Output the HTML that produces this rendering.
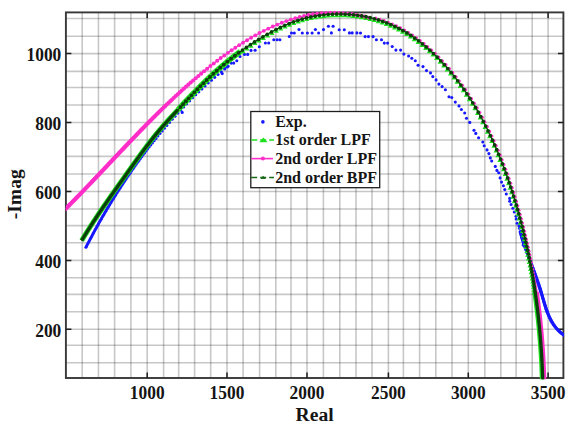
<!DOCTYPE html><html><head><meta charset="utf-8"><style>
html,body{margin:0;padding:0;background:#fff;width:572px;height:428px;overflow:hidden}
svg{display:block}
text{font-family:"Liberation Serif",serif;font-weight:bold;fill:#151515}
</style></head><body>
<svg width="572" height="428" viewBox="0 0 572 428">
<defs><clipPath id="c"><rect x="65.9" y="9" width="498.1" height="370.2"/></clipPath></defs>
<path d="M82.20,12.40V378.00M98.45,12.40V378.00M114.60,12.40V378.00M130.90,12.40V378.00M147.20,12.40V378.00M163.60,12.40V378.00M178.70,12.40V378.00M194.60,12.40V378.00M210.70,12.40V378.00M227.00,12.40V378.00M243.10,12.40V378.00M259.60,12.40V378.00M275.80,12.40V378.00M291.00,12.40V378.00M307.00,12.40V378.00M323.40,12.40V378.00M339.80,12.40V378.00M356.00,12.40V378.00M372.00,12.40V378.00M388.40,12.40V378.00M403.40,12.40V378.00M419.60,12.40V378.00M435.80,12.40V378.00M452.00,12.40V378.00M468.30,12.40V378.00M484.80,12.40V378.00M500.80,12.40V378.00M516.10,12.40V378.00M532.20,12.40V378.00M548.10,12.40V378.00" stroke="#000" stroke-opacity="0.22" stroke-width="1.6" fill="none"/>
<path d="M65.90,362.70H563.40M65.90,345.30H563.40M65.90,329.20H563.40M65.90,311.70H563.40M65.90,294.40H563.40M65.90,277.80H563.40M65.90,260.40H563.40M65.90,242.80H563.40M65.90,225.60H563.40M65.90,209.00H563.40M65.90,191.50H563.40M65.90,174.00H563.40M65.90,156.40H563.40M65.90,140.00H563.40M65.90,122.50H563.40M65.90,105.00H563.40M65.90,87.50H563.40M65.90,71.40H563.40M65.90,53.60H563.40M65.90,36.20H563.40M65.90,18.50H563.40" stroke="#000" stroke-opacity="0.22" stroke-width="1.6" fill="none"/>
<rect x="65.90" y="12.40" width="497.50" height="365.60" fill="none" stroke="#383838" stroke-width="1.9"/>
<path d="M147.20,378.00V372.50M147.20,12.40V17.90M227.00,378.00V372.50M227.00,12.40V17.90M307.00,378.00V372.50M307.00,12.40V17.90M388.40,378.00V372.50M388.40,12.40V17.90M468.30,378.00V372.50M468.30,12.40V17.90M548.10,378.00V372.50M548.10,12.40V17.90M65.90,329.20H71.40M563.40,329.20H557.90M65.90,260.40H71.40M563.40,260.40H557.90M65.90,191.50H71.40M563.40,191.50H557.90M65.90,122.50H71.40M563.40,122.50H557.90M65.90,53.60H71.40M563.40,53.60H557.90" stroke="#1e1e1e" stroke-width="1.5" fill="none"/>
<g clip-path="url(#c)">
<g fill="#1818ff"><circle cx="85.93" cy="247.32" r="1.55"/><circle cx="86.57" cy="246.07" r="1.55"/><circle cx="87.22" cy="244.81" r="1.55"/><circle cx="87.87" cy="243.55" r="1.55"/><circle cx="88.52" cy="242.29" r="1.55"/><circle cx="89.18" cy="241.03" r="1.55"/><circle cx="89.84" cy="239.77" r="1.55"/><circle cx="90.51" cy="238.50" r="1.55"/><circle cx="91.18" cy="237.23" r="1.55"/><circle cx="91.86" cy="235.96" r="1.55"/><circle cx="92.54" cy="234.68" r="1.55"/><circle cx="93.22" cy="233.40" r="1.55"/><circle cx="93.91" cy="232.12" r="1.55"/><circle cx="94.61" cy="230.84" r="1.55"/><circle cx="95.31" cy="229.56" r="1.55"/><circle cx="96.02" cy="228.27" r="1.55"/><circle cx="96.73" cy="226.98" r="1.55"/><circle cx="97.44" cy="225.68" r="1.55"/><circle cx="98.17" cy="224.39" r="1.55"/><circle cx="98.89" cy="223.09" r="1.55"/><circle cx="99.62" cy="221.79" r="1.55"/><circle cx="100.36" cy="220.49" r="1.55"/><circle cx="101.10" cy="219.18" r="1.55"/><circle cx="101.85" cy="217.87" r="1.55"/><circle cx="102.60" cy="216.56" r="1.55"/><circle cx="103.36" cy="215.25" r="1.55"/><circle cx="104.13" cy="213.93" r="1.55"/><circle cx="104.90" cy="212.61" r="1.55"/><circle cx="105.67" cy="211.29" r="1.55"/><circle cx="106.45" cy="209.96" r="1.55"/><circle cx="107.24" cy="208.64" r="1.55"/><circle cx="108.03" cy="207.31" r="1.55"/><circle cx="108.83" cy="205.97" r="1.55"/><circle cx="109.64" cy="204.64" r="1.55"/><circle cx="110.45" cy="203.30" r="1.55"/><circle cx="111.26" cy="201.96" r="1.55"/><circle cx="112.09" cy="200.62" r="1.55"/><circle cx="112.92" cy="199.27" r="1.55"/><circle cx="113.75" cy="197.92" r="1.55"/><circle cx="114.59" cy="196.57" r="1.55"/><circle cx="115.44" cy="195.22" r="1.55"/><circle cx="116.30" cy="193.86" r="1.55"/><circle cx="117.18" cy="192.47" r="1.55"/><circle cx="118.07" cy="191.07" r="1.55"/><circle cx="118.98" cy="189.65" r="1.55"/><circle cx="119.91" cy="188.21" r="1.55"/><circle cx="120.86" cy="186.75" r="1.55"/><circle cx="121.83" cy="185.27" r="1.55"/><circle cx="122.81" cy="183.77" r="1.55"/><circle cx="123.82" cy="182.25" r="1.55"/><circle cx="124.85" cy="180.71" r="1.55"/><circle cx="125.89" cy="179.15" r="1.55"/><circle cx="126.96" cy="177.56" r="1.55"/><circle cx="128.06" cy="175.96" r="1.55"/><circle cx="129.17" cy="174.33" r="1.55"/><circle cx="130.31" cy="172.68" r="1.55"/><circle cx="131.47" cy="171.00" r="1.55"/><circle cx="132.66" cy="169.31" r="1.55"/><circle cx="133.87" cy="167.59" r="1.55"/><circle cx="135.11" cy="165.84" r="1.55"/><circle cx="136.38" cy="164.08" r="1.55"/><circle cx="137.67" cy="162.28" r="1.55"/><circle cx="138.99" cy="160.47" r="1.55"/><circle cx="140.34" cy="158.62" r="1.55"/><circle cx="141.73" cy="156.76" r="1.55"/><circle cx="143.14" cy="154.86" r="1.55"/><circle cx="144.59" cy="152.94" r="1.55"/><circle cx="146.07" cy="151.00" r="1.55"/><circle cx="147.58" cy="149.02" r="1.55"/><circle cx="149.13" cy="147.02" r="1.55"/><circle cx="150.72" cy="144.99" r="1.55"/><circle cx="152.36" cy="142.91" r="1.55"/><circle cx="154.10" cy="140.73" r="1.55"/><circle cx="155.94" cy="138.45" r="1.55"/><circle cx="157.89" cy="136.06" r="1.55"/><circle cx="159.94" cy="133.57" r="1.55"/><circle cx="162.12" cy="130.97" r="1.55"/><circle cx="164.43" cy="128.24" r="1.55"/><circle cx="166.88" cy="125.40" r="1.55"/><circle cx="169.47" cy="122.42" r="1.55"/><circle cx="172.23" cy="119.31" r="1.55"/><circle cx="175.05" cy="116.19" r="1.55"/><circle cx="177.90" cy="113.08" r="1.55"/><circle cx="180.78" cy="109.99" r="1.55"/><circle cx="183.70" cy="106.92" r="1.55"/><circle cx="186.64" cy="103.86" r="1.55"/><circle cx="189.63" cy="100.83" r="1.55"/><circle cx="192.64" cy="97.82" r="1.55"/><circle cx="195.69" cy="94.82" r="1.55"/><circle cx="198.77" cy="91.85" r="1.55"/><circle cx="201.89" cy="88.90" r="1.55"/><circle cx="205.05" cy="85.97" r="1.55"/><circle cx="208.23" cy="83.07" r="1.55"/><circle cx="211.46" cy="80.19" r="1.55"/><circle cx="214.71" cy="77.33" r="1.55"/><circle cx="218.01" cy="74.50" r="1.55"/><circle cx="221.34" cy="71.69" r="1.55"/><circle cx="224.71" cy="68.91" r="1.55"/><circle cx="228.11" cy="66.16" r="1.55"/><circle cx="182.20" cy="112.40" r="1.55"/><circle cx="222.20" cy="73.60" r="1.55"/><circle cx="224.60" cy="68.40" r="1.55"/><circle cx="227.40" cy="67.00" r="1.55"/><circle cx="231.20" cy="63.10" r="1.55"/><circle cx="233.70" cy="63.10" r="1.55"/><circle cx="236.80" cy="60.70" r="1.55"/><circle cx="240.00" cy="56.50" r="1.55"/><circle cx="244.50" cy="54.40" r="1.55"/><circle cx="247.70" cy="54.40" r="1.55"/><circle cx="251.00" cy="50.40" r="1.55"/><circle cx="255.10" cy="50.30" r="1.55"/><circle cx="259.30" cy="46.80" r="1.55"/><circle cx="265.40" cy="43.00" r="1.55"/><circle cx="268.70" cy="43.00" r="1.55"/><circle cx="273.80" cy="39.80" r="1.55"/><circle cx="277.10" cy="39.80" r="1.55"/><circle cx="279.90" cy="39.80" r="1.55"/><circle cx="289.30" cy="36.50" r="1.55"/><circle cx="291.50" cy="33.00" r="1.55"/><circle cx="294.30" cy="33.00" r="1.55"/><circle cx="299.00" cy="29.50" r="1.55"/><circle cx="302.30" cy="33.00" r="1.55"/><circle cx="307.40" cy="33.00" r="1.55"/><circle cx="312.10" cy="33.00" r="1.55"/><circle cx="315.40" cy="29.50" r="1.55"/><circle cx="318.60" cy="33.00" r="1.55"/><circle cx="323.50" cy="29.60" r="1.55"/><circle cx="328.40" cy="26.20" r="1.55"/><circle cx="333.10" cy="26.20" r="1.55"/><circle cx="331.40" cy="32.90" r="1.55"/><circle cx="339.20" cy="29.70" r="1.55"/><circle cx="344.30" cy="29.70" r="1.55"/><circle cx="349.40" cy="32.90" r="1.55"/><circle cx="352.20" cy="32.90" r="1.55"/><circle cx="356.90" cy="32.90" r="1.55"/><circle cx="360.50" cy="33.00" r="1.55"/><circle cx="365.10" cy="36.60" r="1.55"/><circle cx="368.40" cy="36.60" r="1.55"/><circle cx="373.10" cy="36.60" r="1.55"/><circle cx="376.40" cy="39.80" r="1.55"/><circle cx="381.50" cy="39.80" r="1.55"/><circle cx="384.30" cy="43.10" r="1.55"/><circle cx="387.60" cy="43.10" r="1.55"/><circle cx="392.20" cy="46.50" r="1.55"/><circle cx="395.90" cy="50.10" r="1.55"/><circle cx="400.60" cy="50.10" r="1.55"/><circle cx="403.90" cy="54.10" r="1.55"/><circle cx="408.60" cy="56.00" r="1.55"/><circle cx="411.80" cy="58.30" r="1.55"/><circle cx="415.30" cy="60.70" r="1.55"/><circle cx="418.10" cy="65.20" r="1.55"/><circle cx="423.00" cy="66.60" r="1.55"/><circle cx="426.50" cy="70.60" r="1.55"/><circle cx="430.50" cy="72.90" r="1.55"/><circle cx="432.80" cy="76.60" r="1.55"/><circle cx="436.10" cy="79.90" r="1.55"/><circle cx="438.90" cy="84.10" r="1.55"/><circle cx="442.10" cy="86.60" r="1.55"/><circle cx="445.40" cy="89.70" r="1.55"/><circle cx="449.00" cy="96.80" r="1.55"/><circle cx="451.80" cy="97.50" r="1.55"/><circle cx="455.30" cy="102.10" r="1.55"/><circle cx="459.00" cy="105.90" r="1.55"/><circle cx="461.40" cy="109.50" r="1.55"/><circle cx="464.70" cy="113.00" r="1.55"/><circle cx="466.50" cy="118.20" r="1.55"/><circle cx="469.80" cy="122.40" r="1.55"/><circle cx="474.00" cy="130.20" r="1.55"/><circle cx="475.80" cy="133.40" r="1.55"/><circle cx="478.60" cy="137.70" r="1.55"/><circle cx="482.80" cy="142.00" r="1.55"/><circle cx="484.20" cy="145.70" r="1.55"/><circle cx="487.00" cy="149.90" r="1.55"/><circle cx="488.90" cy="153.60" r="1.55"/><circle cx="490.30" cy="157.90" r="1.55"/><circle cx="491.70" cy="161.00" r="1.55"/><circle cx="495.30" cy="166.40" r="1.55"/><circle cx="496.90" cy="170.40" r="1.55"/><circle cx="498.70" cy="172.80" r="1.55"/><circle cx="500.10" cy="177.90" r="1.55"/><circle cx="501.50" cy="182.10" r="1.55"/><circle cx="503.40" cy="185.80" r="1.55"/><circle cx="504.80" cy="189.60" r="1.55"/><circle cx="506.30" cy="194.00" r="1.55"/><circle cx="509.70" cy="198.40" r="1.55"/><circle cx="509.70" cy="201.20" r="1.55"/><circle cx="511.10" cy="204.50" r="1.55"/><circle cx="512.90" cy="208.20" r="1.55"/><circle cx="514.30" cy="212.00" r="1.55"/><circle cx="516.00" cy="216.20" r="1.55"/><circle cx="516.20" cy="219.00" r="1.55"/><circle cx="517.10" cy="223.20" r="1.55"/><circle cx="519.00" cy="225.90" r="1.55"/><circle cx="519.50" cy="228.30" r="1.55"/><circle cx="520.90" cy="231.50" r="1.55"/><circle cx="521.80" cy="237.10" r="1.55"/><circle cx="523.20" cy="245.10" r="1.55"/><circle cx="520.25" cy="231.66" r="1.65"/><circle cx="520.52" cy="232.62" r="1.65"/><circle cx="520.79" cy="233.58" r="1.65"/><circle cx="521.07" cy="234.54" r="1.65"/><circle cx="521.35" cy="235.50" r="1.65"/><circle cx="521.64" cy="236.46" r="1.65"/><circle cx="521.93" cy="237.42" r="1.65"/><circle cx="522.22" cy="238.37" r="1.65"/><circle cx="522.52" cy="239.33" r="1.65"/><circle cx="522.83" cy="240.28" r="1.65"/><circle cx="523.13" cy="241.23" r="1.65"/><circle cx="523.44" cy="242.18" r="1.65"/><circle cx="523.76" cy="243.13" r="1.65"/><circle cx="524.08" cy="244.08" r="1.65"/><circle cx="524.40" cy="245.03" r="1.65"/><circle cx="524.72" cy="245.97" r="1.65"/><circle cx="525.04" cy="246.92" r="1.65"/><circle cx="525.37" cy="247.86" r="1.65"/><circle cx="525.70" cy="248.81" r="1.65"/><circle cx="526.04" cy="249.75" r="1.65"/><circle cx="526.37" cy="250.69" r="1.65"/><circle cx="526.71" cy="251.63" r="1.65"/><circle cx="527.05" cy="252.57" r="1.65"/><circle cx="527.39" cy="253.51" r="1.65"/><circle cx="527.74" cy="254.45" r="1.65"/><circle cx="528.08" cy="255.39" r="1.65"/><circle cx="528.43" cy="256.33" r="1.65"/><circle cx="528.77" cy="257.27" r="1.65"/><circle cx="529.12" cy="258.21" r="1.65"/><circle cx="529.47" cy="259.14" r="1.65"/><circle cx="529.82" cy="260.08" r="1.65"/><circle cx="530.17" cy="261.02" r="1.65"/><circle cx="530.52" cy="261.95" r="1.65"/><circle cx="530.87" cy="262.89" r="1.65"/><circle cx="531.22" cy="263.83" r="1.65"/><circle cx="531.58" cy="264.76" r="1.65"/><circle cx="531.93" cy="265.70" r="1.65"/><circle cx="532.28" cy="266.63" r="1.65"/><circle cx="532.63" cy="267.57" r="1.65"/><circle cx="532.98" cy="268.51" r="1.65"/><circle cx="533.33" cy="269.44" r="1.65"/><circle cx="533.68" cy="270.38" r="1.65"/><circle cx="534.02" cy="271.32" r="1.65"/><circle cx="534.37" cy="272.26" r="1.65"/><circle cx="534.71" cy="273.20" r="1.65"/><circle cx="535.06" cy="274.14" r="1.65"/><circle cx="535.40" cy="275.08" r="1.65"/><circle cx="535.74" cy="276.02" r="1.65"/><circle cx="536.08" cy="276.96" r="1.65"/><circle cx="536.41" cy="277.90" r="1.65"/><circle cx="536.75" cy="278.84" r="1.65"/><circle cx="537.08" cy="279.78" r="1.65"/><circle cx="537.41" cy="280.73" r="1.65"/><circle cx="537.74" cy="281.67" r="1.65"/><circle cx="538.06" cy="282.62" r="1.65"/><circle cx="538.38" cy="283.57" r="1.65"/><circle cx="538.70" cy="284.52" r="1.65"/><circle cx="539.01" cy="285.46" r="1.65"/><circle cx="539.32" cy="286.41" r="1.65"/><circle cx="539.63" cy="287.37" r="1.65"/><circle cx="539.94" cy="288.32" r="1.65"/><circle cx="540.24" cy="289.27" r="1.65"/><circle cx="540.53" cy="290.23" r="1.65"/><circle cx="540.83" cy="291.18" r="1.65"/><circle cx="541.12" cy="292.14" r="1.65"/><circle cx="541.40" cy="293.10" r="1.65"/><circle cx="541.68" cy="294.06" r="1.65"/><circle cx="541.96" cy="295.02" r="1.65"/><circle cx="542.24" cy="295.98" r="1.65"/><circle cx="542.52" cy="296.94" r="1.65"/><circle cx="542.80" cy="297.90" r="1.65"/><circle cx="543.08" cy="298.86" r="1.65"/><circle cx="543.36" cy="299.82" r="1.65"/><circle cx="543.64" cy="300.78" r="1.65"/><circle cx="543.92" cy="301.74" r="1.65"/><circle cx="544.21" cy="302.70" r="1.65"/><circle cx="544.50" cy="303.65" r="1.65"/><circle cx="544.79" cy="304.61" r="1.65"/><circle cx="545.09" cy="305.57" r="1.65"/><circle cx="545.39" cy="306.52" r="1.65"/><circle cx="545.70" cy="307.47" r="1.65"/><circle cx="546.02" cy="308.42" r="1.65"/><circle cx="546.34" cy="309.36" r="1.65"/><circle cx="546.67" cy="310.31" r="1.65"/><circle cx="547.02" cy="311.25" r="1.65"/><circle cx="547.37" cy="312.18" r="1.65"/><circle cx="547.73" cy="313.12" r="1.65"/><circle cx="548.10" cy="314.04" r="1.65"/><circle cx="548.48" cy="314.97" r="1.65"/><circle cx="548.87" cy="315.89" r="1.65"/><circle cx="549.28" cy="316.80" r="1.65"/><circle cx="549.70" cy="317.71" r="1.65"/><circle cx="550.14" cy="318.61" r="1.65"/><circle cx="550.59" cy="319.50" r="1.65"/><circle cx="551.05" cy="320.39" r="1.65"/><circle cx="551.54" cy="321.26" r="1.65"/><circle cx="552.04" cy="322.13" r="1.65"/><circle cx="552.55" cy="322.98" r="1.65"/><circle cx="553.09" cy="323.83" r="1.65"/><circle cx="553.64" cy="324.66" r="1.65"/><circle cx="554.21" cy="325.49" r="1.65"/><circle cx="554.80" cy="326.29" r="1.65"/><circle cx="555.41" cy="327.09" r="1.65"/><circle cx="556.03" cy="327.86" r="1.65"/><circle cx="556.68" cy="328.63" r="1.65"/><circle cx="557.35" cy="329.37" r="1.65"/><circle cx="558.03" cy="330.10" r="1.65"/><circle cx="558.74" cy="330.81" r="1.65"/><circle cx="559.46" cy="331.50" r="1.65"/><circle cx="560.20" cy="332.17" r="1.65"/><circle cx="560.96" cy="332.82" r="1.65"/><circle cx="561.74" cy="333.45" r="1.65"/><circle cx="562.53" cy="334.06" r="1.65"/><circle cx="563.34" cy="334.65" r="1.65"/><circle cx="564.17" cy="335.21" r="1.65"/><circle cx="565.01" cy="335.75" r="1.65"/><circle cx="565.86" cy="336.28" r="1.65"/></g>
<path d="M81.67,240.57 L82.40,239.36 L83.13,238.15 L83.86,236.94 L84.60,235.74 L85.34,234.54 L86.08,233.34 L86.83,232.14 L87.57,230.95 L88.32,229.76 L89.08,228.57 L89.83,227.38 L90.59,226.19 L91.35,225.01 L92.12,223.82 L92.88,222.64 L93.65,221.46 L94.42,220.28 L95.19,219.11 L95.97,217.93 L96.74,216.76 L97.52,215.59 L98.30,214.42 L99.08,213.26 L99.87,212.09 L100.65,210.93 L101.44,209.76 L102.23,208.60 L103.02,207.44 L103.81,206.28 L104.60,205.13 L105.40,203.97 L106.19,202.82 L106.99,201.66 L107.79,200.51 L108.59,199.36 L109.39,198.21 L110.19,197.07 L110.99,195.92 L111.79,194.77 L112.60,193.63 L113.40,192.48 L114.21,191.34 L115.01,190.20 L115.82,189.06 L116.63,187.92 L117.43,186.78 L118.24,185.64 L119.05,184.51 L119.86,183.37 L120.66,182.24 L121.47,181.10 L122.28,179.97 L123.09,178.84 L123.90,177.70 L124.70,176.57 L125.51,175.44 L126.32,174.31 L127.13,173.18 L127.93,172.05 L128.74,170.92 L129.54,169.79 L130.35,168.67 L131.15,167.54 L131.96,166.41 L132.76,165.28 L133.56,164.16 L134.37,163.03 L135.17,161.91 L135.98,160.79 L136.78,159.67 L137.59,158.55 L138.40,157.43 L139.21,156.31 L140.02,155.19 L140.83,154.08 L141.64,152.97 L142.46,151.86 L143.28,150.75 L144.10,149.64 L144.92,148.53 L145.75,147.43 L146.57,146.33 L147.40,145.23 L148.24,144.14 L149.08,143.04 L149.92,141.95 L150.76,140.86 L151.61,139.78 L152.47,138.70 L153.32,137.62 L154.18,136.54 L155.05,135.47 L155.92,134.40 L156.80,133.33 L157.68,132.27 L158.57,131.21 L159.46,130.15 L160.36,129.10 L161.26,128.05 L162.17,127.01 L163.08,125.96 L163.99,124.92 L164.91,123.89 L165.84,122.85 L166.77,121.82 L167.70,120.79 L168.63,119.77 L169.57,118.74 L170.51,117.72 L171.45,116.70 L172.39,115.68 L173.34,114.66 L174.28,113.65 L175.23,112.63 L176.18,111.62 L177.12,110.61 L178.07,109.60 L179.02,108.58 L179.97,107.57 L180.92,106.56 L181.86,105.55 L182.81,104.55 L183.76,103.54 L184.70,102.53 L185.65,101.53 L186.60,100.52 L187.54,99.52 L188.49,98.52 L189.44,97.52 L190.39,96.53 L191.34,95.54 L192.28,94.55 L193.24,93.56 L194.19,92.57 L195.14,91.59 L196.09,90.61 L197.05,89.64 L198.00,88.67 L198.96,87.70 L199.92,86.74 L200.88,85.78 L201.84,84.82 L202.81,83.87 L203.77,82.92 L204.74,81.98 L205.71,81.04 L206.68,80.10 L207.65,79.16 L208.63,78.24 L209.60,77.31 L210.58,76.39 L211.57,75.47 L212.55,74.56 L213.54,73.65 L214.53,72.74 L215.52,71.84 L216.51,70.95 L217.51,70.05 L218.51,69.16 L219.51,68.28 L220.52,67.40 L221.53,66.52 L222.54,65.65 L223.56,64.79 L224.58,63.92 L225.61,63.06 L226.64,62.21 L227.67,61.36 L228.71,60.51 L229.76,59.67 L230.81,58.84 L231.87,58.01 L232.93,57.18 L233.99,56.36 L235.06,55.54 L236.14,54.72 L237.22,53.91 L238.31,53.11 L239.40,52.31 L240.50,51.51 L241.60,50.72 L242.70,49.93 L243.82,49.14 L244.93,48.37 L246.05,47.59 L247.18,46.82 L248.31,46.05 L249.45,45.29 L250.59,44.53 L251.73,43.78 L252.88,43.03 L254.04,42.29 L255.20,41.55 L256.36,40.81 L257.53,40.08 L258.70,39.35 L259.88,38.63 L261.06,37.91 L262.25,37.19 L263.44,36.48 L264.64,35.78 L265.84,35.08 L267.05,34.39 L268.26,33.70 L269.47,33.02 L270.69,32.35 L271.92,31.69 L273.14,31.03 L274.38,30.38 L275.62,29.74 L276.86,29.11 L278.11,28.49 L279.36,27.88 L280.62,27.28 L281.88,26.69 L283.15,26.11 L284.42,25.54 L285.69,24.98 L286.97,24.43 L288.26,23.90 L289.55,23.37 L290.85,22.86 L292.15,22.37 L293.45,21.88 L294.76,21.41 L296.08,20.96 L297.39,20.51 L298.72,20.09 L300.05,19.67 L301.38,19.27 L302.72,18.89 L304.06,18.52 L305.40,18.16 L306.75,17.82 L308.10,17.50 L309.46,17.18 L310.82,16.88 L312.18,16.60 L313.54,16.33 L314.91,16.08 L316.28,15.83 L317.65,15.61 L319.03,15.40 L320.41,15.20 L321.79,15.01 L323.17,14.84 L324.55,14.69 L325.94,14.55 L327.32,14.42 L328.71,14.31 L330.10,14.21 L331.49,14.13 L332.88,14.06 L334.27,14.01 L335.66,13.97 L337.05,13.94 L338.45,13.93 L339.84,13.94 L341.23,13.95 L342.62,13.98 L344.02,14.03 L345.41,14.09 L346.80,14.17 L348.19,14.26 L349.58,14.36 L350.96,14.48 L352.35,14.61 L353.73,14.76 L355.12,14.92 L356.50,15.10 L357.88,15.29 L359.26,15.49 L360.63,15.71 L362.01,15.95 L363.38,16.19 L364.74,16.46 L366.11,16.73 L367.47,17.02 L368.83,17.33 L370.19,17.65 L371.54,17.99 L372.89,18.33 L374.23,18.70 L375.58,19.08 L376.91,19.47 L378.25,19.88 L379.57,20.30 L380.90,20.73 L382.22,21.18 L383.53,21.65 L384.84,22.13 L386.15,22.62 L387.45,23.13 L388.74,23.65 L390.03,24.19 L391.32,24.74 L392.59,25.31 L393.86,25.89 L395.13,26.48 L396.39,27.09 L397.64,27.71 L398.89,28.35 L400.13,29.01 L401.36,29.67 L402.59,30.35 L403.81,31.05 L405.02,31.75 L406.22,32.47 L407.42,33.21 L408.62,33.95 L409.80,34.71 L410.98,35.48 L412.15,36.27 L413.32,37.06 L414.48,37.87 L415.63,38.69 L416.78,39.52 L417.91,40.36 L419.05,41.21 L420.17,42.07 L421.29,42.94 L422.40,43.83 L423.50,44.72 L424.60,45.62 L425.69,46.53 L426.77,47.45 L427.84,48.38 L428.91,49.32 L429.97,50.27 L431.03,51.23 L432.07,52.19 L433.11,53.16 L434.15,54.15 L435.17,55.13 L436.19,56.13 L437.20,57.13 L438.20,58.14 L439.20,59.16 L440.19,60.18 L441.17,61.21 L442.14,62.25 L443.11,63.29 L444.07,64.34 L445.02,65.39 L445.97,66.45 L446.90,67.51 L447.83,68.58 L448.76,69.65 L449.67,70.73 L450.58,71.81 L451.48,72.89 L452.37,73.98 L453.25,75.07 L454.13,76.17 L455.00,77.27 L455.86,78.37 L456.72,79.48 L457.56,80.58 L458.40,81.69 L459.23,82.80 L460.06,83.92 L460.87,85.03 L461.68,86.15 L462.48,87.27 L463.27,88.38 L464.06,89.50 L464.83,90.62 L465.60,91.75 L466.36,92.87 L467.12,93.99 L467.86,95.11 L468.60,96.24 L469.34,97.37 L470.06,98.50 L470.78,99.63 L471.50,100.76 L472.20,101.89 L472.90,103.03 L473.60,104.17 L474.29,105.31 L474.97,106.45 L475.65,107.60 L476.32,108.75 L476.99,109.90 L477.65,111.05 L478.31,112.21 L478.96,113.37 L479.61,114.54 L480.26,115.70 L480.90,116.88 L481.53,118.05 L482.17,119.23 L482.79,120.42 L483.42,121.60 L484.04,122.80 L484.66,123.99 L485.28,125.20 L485.89,126.40 L486.50,127.61 L487.10,128.83 L487.70,130.05 L488.30,131.27 L488.90,132.50 L489.49,133.73 L490.08,134.96 L490.66,136.20 L491.25,137.44 L491.82,138.69 L492.40,139.94 L492.97,141.19 L493.54,142.45 L494.10,143.71 L494.66,144.97 L495.22,146.24 L495.78,147.51 L496.33,148.78 L496.87,150.06 L497.41,151.34 L497.95,152.62 L498.49,153.91 L499.02,155.19 L499.55,156.49 L500.07,157.78 L500.59,159.07 L501.11,160.37 L501.62,161.67 L502.13,162.98 L502.64,164.28 L503.14,165.59 L503.64,166.90 L504.13,168.21 L504.62,169.52 L505.11,170.84 L505.59,172.16 L506.07,173.48 L506.55,174.80 L507.02,176.13 L507.49,177.45 L507.95,178.78 L508.42,180.11 L508.87,181.44 L509.33,182.78 L509.78,184.11 L510.23,185.45 L510.67,186.79 L511.11,188.13 L511.55,189.47 L511.98,190.81 L512.41,192.16 L512.84,193.51 L513.26,194.85 L513.68,196.20 L514.09,197.55 L514.51,198.90 L514.92,200.25 L515.32,201.61 L515.72,202.96 L516.12,204.32 L516.52,205.67 L516.91,207.03 L517.30,208.39 L517.69,209.75 L518.07,211.11 L518.45,212.47 L518.83,213.83 L519.20,215.19 L519.57,216.56 L519.93,217.92 L520.30,219.28 L520.66,220.65 L521.01,222.01 L521.37,223.38 L521.72,224.74 L522.07,226.11 L522.41,227.48 L522.75,228.84 L523.09,230.21 L523.42,231.58 L523.75,232.94 L524.08,234.31 L524.41,235.68 L524.73,237.04 L525.05,238.41 L525.37,239.78 L525.68,241.15 L525.99,242.52 L526.30,243.89 L526.60,245.26 L526.90,246.63 L527.20,247.99 L527.50,249.36 L527.79,250.74 L528.08,252.11 L528.36,253.48 L528.65,254.85 L528.93,256.22 L529.20,257.59 L529.48,258.96 L529.75,260.34 L530.02,261.71 L530.28,263.08 L530.54,264.45 L530.80,265.83 L531.06,267.20 L531.31,268.58 L531.56,269.95 L531.81,271.33 L532.06,272.70 L532.30,274.08 L532.54,275.45 L532.77,276.83 L533.01,278.21 L533.24,279.59 L533.47,280.96 L533.69,282.34 L533.91,283.72 L534.13,285.10 L534.35,286.48 L534.56,287.86 L534.77,289.24 L534.98,290.62 L535.18,292.00 L535.39,293.38 L535.59,294.76 L535.78,296.15 L535.98,297.53 L536.17,298.91 L536.36,300.30 L536.54,301.68 L536.72,303.07 L536.90,304.45 L537.08,305.84 L537.26,307.23 L537.43,308.61 L537.60,310.00 L537.76,311.39 L537.93,312.78 L538.09,314.17 L538.25,315.55 L538.40,316.95 L538.55,318.34 L538.71,319.73 L538.85,321.12 L539.00,322.51 L539.14,323.90 L539.28,325.30 L539.42,326.69 L539.55,328.09 L539.68,329.48 L539.81,330.88 L539.94,332.27 L540.06,333.67 L540.19,335.07 L540.30,336.47 L540.42,337.87 L540.53,339.27 L540.65,340.67 L540.75,342.07 L540.86,343.47 L540.96,344.87 L541.07,346.27 L541.16,347.68 L541.26,349.08 L541.35,350.48 L541.44,351.89 L541.53,353.30 L541.62,354.70 L541.70,356.11 L541.78,357.52 L541.86,358.93 L541.94,360.34 L542.01,361.75 L542.08,363.16 L542.15,364.57 L542.22,365.98 L542.28,367.39 L542.34,368.81 L542.40,370.22 L542.46,371.64 L542.51,373.05 L542.57,374.47 L542.62,375.89 L542.66,377.31 L542.71,378.73 L542.75,380.15 L542.79,381.57 L542.83,382.99 L542.86,384.41 L542.90,385.83 L542.93,387.26 L542.95,388.68 L542.98,390.11 L543.00,391.54 L543.03,392.96 L543.04,394.39 L543.06,395.82 L543.08,397.25 L543.09,398.68 L543.10,400.11" stroke="#1ee01e" stroke-width="1.2" fill="none"/>
<path d="M49.05,225.00 L50.09,224.01 L51.13,223.01 L52.17,222.02 L53.20,221.02 L54.23,220.03 L55.26,219.03 L56.29,218.04 L57.31,217.04 L58.33,216.04 L59.35,215.05 L60.36,214.05 L61.38,213.05 L62.39,212.06 L63.39,211.06 L64.40,210.06 L65.40,209.06 L66.40,208.06 L67.40,207.07 L68.39,206.07 L69.38,205.07 L70.38,204.07 L71.36,203.07 L72.35,202.07 L73.33,201.07 L74.32,200.07 L75.30,199.07 L76.28,198.07 L77.25,197.07 L78.23,196.07 L79.20,195.07 L80.17,194.08 L81.14,193.08 L82.11,192.08 L83.07,191.08 L84.04,190.08 L85.00,189.08 L85.96,188.08 L86.92,187.08 L87.88,186.08 L88.84,185.08 L89.80,184.08 L90.75,183.08 L91.70,182.08 L92.66,181.08 L93.61,180.08 L94.56,179.08 L95.51,178.09 L96.45,177.09 L97.40,176.09 L98.35,175.09 L99.29,174.09 L100.24,173.10 L101.18,172.10 L102.12,171.10 L103.07,170.10 L104.01,169.11 L104.95,168.11 L105.89,167.11 L106.83,166.12 L107.77,165.12 L108.71,164.13 L109.65,163.13 L110.58,162.14 L111.52,161.14 L112.46,160.15 L113.40,159.15 L114.34,158.16 L115.27,157.17 L116.21,156.17 L117.15,155.18 L118.08,154.19 L119.02,153.20 L119.96,152.21 L120.90,151.21 L121.84,150.22 L122.77,149.23 L123.71,148.25 L124.65,147.26 L125.59,146.27 L126.53,145.28 L127.47,144.29 L128.41,143.31 L129.35,142.32 L130.29,141.33 L131.23,140.35 L132.18,139.36 L133.12,138.38 L134.07,137.39 L135.01,136.41 L135.96,135.43 L136.90,134.45 L137.85,133.47 L138.80,132.49 L139.75,131.51 L140.70,130.53 L141.66,129.55 L142.61,128.57 L143.56,127.59 L144.52,126.62 L145.48,125.64 L146.44,124.66 L147.40,123.69 L148.36,122.72 L149.32,121.74 L150.29,120.77 L151.25,119.80 L152.22,118.83 L153.19,117.86 L154.16,116.89 L155.13,115.92 L156.11,114.95 L157.09,113.99 L158.06,113.02 L159.04,112.06 L160.03,111.09 L161.01,110.13 L162.00,109.17 L162.99,108.21 L163.98,107.25 L164.97,106.29 L165.97,105.33 L166.96,104.37 L167.96,103.41 L168.97,102.46 L169.97,101.50 L170.98,100.55 L171.99,99.60 L173.00,98.64 L174.02,97.69 L175.03,96.74 L176.05,95.79 L177.08,94.85 L178.10,93.90 L179.13,92.95 L180.16,92.01 L181.20,91.07 L182.24,90.12 L183.28,89.18 L184.32,88.24 L185.37,87.30 L186.42,86.37 L187.47,85.43 L188.53,84.49 L189.58,83.56 L190.65,82.63 L191.71,81.69 L192.78,80.76 L193.86,79.83 L194.93,78.91 L196.01,77.98 L197.10,77.05 L198.18,76.13 L199.28,75.21 L200.37,74.29 L201.47,73.37 L202.57,72.45 L203.67,71.53 L204.78,70.62 L205.89,69.71 L207.01,68.80 L208.13,67.90 L209.25,66.99 L210.37,66.09 L211.50,65.20 L212.63,64.30 L213.77,63.41 L214.90,62.53 L216.05,61.64 L217.19,60.76 L218.34,59.89 L219.49,59.02 L220.64,58.15 L221.80,57.28 L222.96,56.42 L224.12,55.57 L225.29,54.72 L226.46,53.87 L227.63,53.03 L228.81,52.20 L229.98,51.36 L231.17,50.54 L232.35,49.72 L233.54,48.90 L234.73,48.09 L235.92,47.29 L237.12,46.49 L238.32,45.70 L239.52,44.91 L240.72,44.13 L241.93,43.36 L243.14,42.59 L244.35,41.83 L245.57,41.08 L246.79,40.33 L248.01,39.59 L249.23,38.86 L250.46,38.14 L251.69,37.42 L252.92,36.71 L254.15,36.01 L255.39,35.31 L256.63,34.62 L257.87,33.95 L259.12,33.28 L260.36,32.61 L261.61,31.96 L262.86,31.31 L264.12,30.68 L265.38,30.05 L266.63,29.43 L267.90,28.82 L269.16,28.22 L270.43,27.63 L271.70,27.05 L272.97,26.47 L274.24,25.91 L275.52,25.36 L276.79,24.82 L278.07,24.28 L279.36,23.76 L280.64,23.25 L281.93,22.75 L283.22,22.26 L284.51,21.78 L285.80,21.31 L287.10,20.85 L288.40,20.40 L289.69,19.97 L291.00,19.54 L292.30,19.13 L293.61,18.73 L294.91,18.34 L296.22,17.96 L297.53,17.60 L298.85,17.25 L300.16,16.90 L301.48,16.58 L302.80,16.26 L304.12,15.96 L305.45,15.67 L306.77,15.39 L308.10,15.12 L309.42,14.87 L310.76,14.64 L312.09,14.41 L313.42,14.20 L314.76,14.00 L316.09,13.82 L317.43,13.65 L318.77,13.50 L320.11,13.36 L321.46,13.23 L322.80,13.12 L324.15,13.02 L325.50,12.94 L326.85,12.87 L328.20,12.82 L329.55,12.78 L330.90,12.75 L332.26,12.74 L333.61,12.75 L334.97,12.76 L336.32,12.79 L337.68,12.84 L339.04,12.90 L340.39,12.97 L341.75,13.06 L343.11,13.16 L344.47,13.28 L345.82,13.40 L347.18,13.55 L348.54,13.70 L349.89,13.87 L351.25,14.05 L352.60,14.25 L353.96,14.45 L355.31,14.67 L356.66,14.91 L358.01,15.16 L359.36,15.42 L360.71,15.69 L362.06,15.98 L363.40,16.27 L364.74,16.59 L366.09,16.91 L367.43,17.25 L368.76,17.60 L370.10,17.96 L371.43,18.33 L372.76,18.72 L374.09,19.12 L375.42,19.53 L376.74,19.95 L378.06,20.38 L379.38,20.83" stroke="#ff2ec8" stroke-width="1.2" fill="none"/>
<path d="M81.67,240.57 L82.40,239.36 L83.13,238.15 L83.86,236.94 L84.60,235.74 L85.34,234.54 L86.08,233.34 L86.83,232.14 L87.57,230.95 L88.32,229.76 L89.08,228.57 L89.83,227.38 L90.59,226.19 L91.35,225.01 L92.12,223.82 L92.88,222.64 L93.65,221.46 L94.42,220.28 L95.19,219.11 L95.97,217.93 L96.74,216.76 L97.52,215.59 L98.30,214.42 L99.08,213.26 L99.87,212.09 L100.65,210.93 L101.44,209.76 L102.23,208.60 L103.02,207.44 L103.81,206.28 L104.60,205.13 L105.40,203.97 L106.19,202.82 L106.99,201.66 L107.79,200.51 L108.59,199.36 L109.39,198.21 L110.19,197.07 L110.99,195.92 L111.79,194.77 L112.60,193.63 L113.40,192.48 L114.21,191.34 L115.01,190.20 L115.82,189.06 L116.63,187.92 L117.43,186.78 L118.24,185.64 L119.05,184.51 L119.86,183.37 L120.66,182.24 L121.47,181.10 L122.28,179.97 L123.09,178.84 L123.90,177.70 L124.70,176.57 L125.51,175.44 L126.32,174.31 L127.13,173.18 L127.93,172.05 L128.74,170.92 L129.54,169.79 L130.35,168.67 L131.15,167.54 L131.96,166.41 L132.76,165.28 L133.56,164.16 L134.37,163.03 L135.17,161.91 L135.98,160.79 L136.78,159.67 L137.59,158.55 L138.40,157.43 L139.21,156.31 L140.02,155.19 L140.83,154.08 L141.64,152.97 L142.46,151.86 L143.28,150.75 L144.10,149.64 L144.92,148.53 L145.75,147.43 L146.57,146.33 L147.40,145.23 L148.24,144.14 L149.08,143.04 L149.92,141.95 L150.76,140.86 L151.61,139.78 L152.47,138.70 L153.32,137.62 L154.18,136.54 L155.05,135.47 L155.92,134.40 L156.80,133.33 L157.68,132.27 L158.57,131.21 L159.46,130.15 L160.36,129.10 L161.26,128.05 L162.17,127.01 L163.08,125.96 L163.99,124.92 L164.91,123.89 L165.84,122.85 L166.77,121.82 L167.70,120.79 L168.63,119.77 L169.57,118.74 L170.51,117.72 L171.45,116.70 L172.39,115.68 L173.34,114.66 L174.28,113.65 L175.23,112.63 L176.18,111.62 L177.12,110.61 L178.07,109.60" stroke="#1ee01e" stroke-width="5.0" fill="none"/>
<path d="M178.07,109.60 L179.02,108.58 L179.97,107.57 L180.92,106.56 L181.86,105.55 L182.81,104.55 L183.76,103.54 L184.70,102.53 L185.65,101.53 L186.60,100.52 L187.54,99.52 L188.49,98.52 L189.44,97.52 L190.39,96.53 L191.34,95.54 L192.28,94.55 L193.24,93.56 L194.19,92.57 L195.14,91.59 L196.09,90.61 L197.05,89.64 L198.00,88.67 L198.96,87.70 L199.92,86.74 L200.88,85.78 L201.84,84.82 L202.81,83.87 L203.77,82.92 L204.74,81.98 L205.71,81.04 L206.68,80.10 L207.65,79.16 L208.63,78.24 L209.60,77.31 L210.58,76.39 L211.57,75.47 L212.55,74.56 L213.54,73.65 L214.53,72.74 L215.52,71.84 L216.51,70.95 L217.51,70.05 L218.51,69.16 L219.51,68.28 L220.52,67.40 L221.53,66.52 L222.54,65.65 L223.56,64.79 L224.58,63.92 L225.61,63.06 L226.64,62.21 L227.67,61.36 L228.71,60.51 L229.76,59.67 L230.81,58.84 L231.87,58.01 L232.93,57.18 L233.99,56.36 L235.06,55.54 L236.14,54.72 L237.22,53.91 L238.31,53.11 L239.40,52.31 L240.50,51.51" stroke="#1ee01e" stroke-width="5.6" fill="none"/>
<path d="M534.29,292.13 L534.50,293.51 L534.69,294.89 L534.89,296.27 L535.08,297.65 L535.28,299.04 L535.46,300.42 L535.65,301.80 L535.83,303.18 L536.01,304.57 L536.19,305.95 L536.36,307.34 L536.53,308.72 L536.70,310.11 L536.87,311.49 L537.03,312.88 L537.19,314.27 L537.35,315.66 L537.51,317.04 L537.66,318.43 L537.81,319.82 L537.96,321.21 L538.10,322.60 L538.25,323.99 L538.38,325.39 L538.52,326.78 L538.66,328.17 L538.79,329.57 L538.92,330.96 L539.04,332.35 L539.17,333.75 L539.29,335.15 L539.41,336.54 L539.52,337.94 L539.64,339.34 L539.75,340.74 L539.86,342.13 L539.96,343.53 L540.07,344.94 L540.17,346.34 L540.27,347.74 L540.36,349.14 L540.46,350.54 L540.55,351.95 L540.63,353.35 L540.72,354.76 L540.80,356.16 L540.89,357.57 L540.96,358.98 L541.04,360.38 L541.11,361.79 L541.18,363.20 L541.25,364.61 L541.32,366.02 L541.38,367.43 L541.44,368.85 L541.50,370.26 L541.56,371.67 L541.61,373.09 L541.67,374.50 L541.72,375.92 L541.76,377.34 L541.81,378.75 L541.85,380.17 L541.89,381.59 L541.93,383.01 L541.96,384.43 L542.00,385.86 L542.03,387.28 L542.05,388.70 L542.08,390.12 L542.10,391.55 L542.13,392.98 L542.14,394.40 L542.16,395.83 L542.18,397.26 L542.19,398.69 L542.20,400.12" stroke="#1ee01e" stroke-width="4.0" fill="none"/>
<path d="M537.46,291.67 L537.66,293.05 L537.86,294.44 L538.06,295.83 L538.25,297.21 L538.45,298.60 L538.63,299.99 L538.82,301.38 L539.00,302.77 L539.18,304.16 L539.36,305.55 L539.54,306.94 L539.71,308.33 L539.88,309.72 L540.05,311.12 L540.21,312.51 L540.37,313.90 L540.53,315.30 L540.69,316.69 L540.84,318.09 L540.99,319.48 L541.14,320.88 L541.29,322.27 L541.43,323.67 L541.57,325.07 L541.71,326.47 L541.84,327.87 L541.97,329.27 L542.10,330.67 L542.23,332.07 L542.36,333.47 L542.48,334.87 L542.60,336.27 L542.71,337.68 L542.83,339.08 L542.94,340.49 L543.05,341.89 L543.15,343.30 L543.26,344.70 L543.36,346.11 L543.46,347.52 L543.55,348.92 L543.65,350.33 L543.74,351.74 L543.83,353.15 L543.92,354.56 L544.00,355.98 L544.08,357.39 L544.16,358.80 L544.24,360.21 L544.31,361.63 L544.38,363.04 L544.45,364.46 L544.52,365.88 L544.58,367.29 L544.64,368.71 L544.70,370.13 L544.76,371.55 L544.81,372.97 L544.86,374.39 L544.91,375.81 L544.96,377.23 L545.01,378.66 L545.05,380.08 L545.09,381.51 L545.13,382.93 L545.16,384.36 L545.20,385.78 L545.23,387.21 L545.25,388.64 L545.28,390.07 L545.30,391.50 L545.33,392.93 L545.34,394.36 L545.36,395.79 L545.38,397.23 L545.39,398.66 L545.40,400.10" stroke="#ff2ec8" stroke-width="2.6" fill="none"/>
<path fill="#1ee01e" d="M240.32,53.18L242.92,48.68L245.52,53.18ZM244.26,50.43L246.86,45.93L249.46,50.43ZM248.27,47.73L250.87,43.23L253.47,47.73ZM252.34,45.09L254.94,40.59L257.54,45.09ZM256.48,42.49L259.08,37.99L261.68,42.49ZM260.68,39.94L263.28,35.44L265.88,39.94ZM264.95,37.46L267.55,32.96L270.15,37.46ZM269.30,35.05L271.90,30.55L274.50,35.05ZM273.68,32.74L276.28,28.24L278.88,32.74ZM278.06,30.58L280.66,26.08L283.26,30.58ZM282.43,28.58L285.03,24.08L287.63,28.58ZM286.79,26.74L289.39,22.24L291.99,26.74ZM291.14,25.07L293.74,20.57L296.34,25.07ZM295.47,23.58L298.07,19.08L300.67,23.58ZM299.79,22.26L302.39,17.76L304.99,22.26ZM304.09,21.11L306.69,16.61L309.29,21.11ZM308.41,20.11L311.01,15.61L313.61,20.11ZM312.72,19.26L315.32,14.76L317.92,19.26ZM317.03,18.57L319.63,14.07L322.23,18.57ZM321.32,18.01L323.92,13.51L326.52,18.01ZM325.60,17.60L328.20,13.10L330.80,17.60ZM329.86,17.33L332.46,12.83L335.06,17.33ZM334.09,17.20L336.69,12.70L339.29,17.20ZM338.29,17.20L340.89,12.70L343.49,17.20ZM342.47,17.33L345.07,12.83L347.67,17.33ZM346.64,17.59L349.24,13.09L351.84,17.59ZM350.81,17.98L353.41,13.48L356.01,17.98ZM354.97,18.50L357.57,14.00L360.17,18.50ZM359.13,19.16L361.73,14.66L364.33,19.16ZM363.28,19.95L365.88,15.45L368.48,19.95ZM367.42,20.88L370.02,16.38L372.62,20.88ZM371.55,21.95L374.15,17.45L376.75,21.95ZM375.67,23.17L378.27,18.67L380.87,23.17ZM379.78,24.53L382.38,20.03L384.98,24.53ZM383.86,26.05L386.46,21.55L389.06,26.05ZM387.93,27.71L390.53,23.21L393.13,27.71ZM391.97,29.54L394.57,25.04L397.17,29.54ZM395.99,31.54L398.59,27.04L401.19,31.54ZM399.97,33.70L402.57,29.20L405.17,33.70ZM403.93,36.03L406.53,31.53L409.13,36.03ZM407.84,38.51L410.44,34.01L413.04,38.51ZM411.71,41.16L414.31,36.66L416.91,41.16ZM415.53,43.95L418.13,39.45L420.73,43.95ZM419.32,46.89L421.92,42.39L424.52,46.89ZM423.07,49.98L425.67,45.48L428.27,49.98ZM426.77,53.22L429.37,48.72L431.97,53.22ZM430.43,56.60L433.03,52.10L435.63,56.60ZM434.05,60.12L436.65,55.62L439.25,60.12ZM437.63,63.79L440.23,59.29L442.83,63.79ZM441.16,67.59L443.76,63.09L446.36,67.59ZM444.62,71.49L447.22,66.99L449.82,71.49ZM448.00,75.47L450.60,70.97L453.20,75.47ZM451.30,79.55L453.90,75.05L456.50,79.55ZM454.53,83.71L457.13,79.21L459.73,83.71ZM457.68,87.96L460.28,83.46L462.88,87.96ZM460.76,92.29L463.36,87.79L465.96,92.29ZM463.77,96.69L466.37,92.19L468.97,96.69ZM466.71,101.17L469.31,96.67L471.91,101.17ZM469.57,105.72L472.17,101.22L474.77,105.72ZM472.34,110.32L474.94,105.82L477.54,110.32ZM475.01,114.95L477.61,110.45L480.21,114.95ZM477.60,119.60L480.20,115.10L482.80,119.60ZM480.09,124.27L482.69,119.77L485.29,124.27ZM482.50,128.95L485.10,124.45L487.70,128.95ZM484.84,133.64L487.44,129.14L490.04,133.64ZM487.10,138.34L489.70,133.84L492.30,138.34ZM489.29,143.05L491.89,138.55L494.49,143.05ZM491.40,147.76L494.00,143.26L496.60,147.76ZM493.45,152.47L496.05,147.97L498.65,152.47ZM495.43,157.17L498.03,152.67L500.63,157.17ZM497.34,161.88L499.94,157.38L502.54,161.88ZM499.19,166.59L501.79,162.09L504.39,166.59ZM500.98,171.28L503.58,166.78L506.18,171.28ZM502.71,175.98L505.31,171.48L507.91,175.98ZM504.37,180.64L506.97,176.14L509.57,180.64ZM505.97,185.26L508.57,180.76L511.17,185.26ZM507.50,189.84L510.10,185.34L512.70,189.84ZM508.97,194.37L511.57,189.87L514.17,194.37ZM510.38,198.86L512.98,194.36L515.58,198.86ZM511.74,203.30L514.34,198.80L516.94,203.30ZM513.04,207.70L515.64,203.20L518.24,207.70ZM514.29,212.05L516.89,207.55L519.49,212.05ZM515.49,216.36L518.09,211.86L520.69,216.36ZM516.65,220.62L519.25,216.12L521.85,220.62ZM517.76,224.83L520.36,220.33L522.96,224.83ZM518.83,229.00L521.43,224.50L524.03,229.00ZM519.86,233.12L522.46,228.62L525.06,233.12ZM520.84,237.19L523.44,232.69L526.04,237.19ZM521.79,241.20L524.39,236.70L526.99,241.20ZM522.69,245.15L525.29,240.65L527.89,245.15ZM523.56,249.04L526.16,244.54L528.76,249.04ZM524.39,252.88L526.99,248.38L529.59,252.88ZM525.18,256.66L527.78,252.16L530.38,256.66ZM525.94,260.38L528.54,255.88L531.14,260.38ZM526.66,264.04L529.26,259.54L531.86,264.04ZM527.35,267.62L529.95,263.12L532.55,267.62ZM527.99,271.06L530.59,266.56L533.19,271.06ZM528.59,274.36L531.19,269.86L533.79,274.36ZM529.15,277.54L531.75,273.04L534.35,277.54ZM529.67,280.60L532.27,276.10L534.87,280.60ZM530.16,283.54L532.76,279.04L535.36,283.54ZM530.62,286.37L533.22,281.87L535.82,286.37ZM531.05,289.08L533.65,284.58L536.25,289.08ZM531.45,291.69L534.05,287.19L536.65,291.69ZM531.82,294.20L534.42,289.70L537.02,294.20Z"/>
<g fill="#ff2ec8"><circle cx="49.05" cy="225.00" r="2.15"/><circle cx="49.99" cy="224.11" r="2.15"/><circle cx="50.93" cy="223.21" r="2.15"/><circle cx="51.87" cy="222.31" r="2.15"/><circle cx="52.80" cy="221.41" r="2.15"/><circle cx="53.74" cy="220.50" r="2.15"/><circle cx="54.68" cy="219.60" r="2.15"/><circle cx="55.61" cy="218.70" r="2.15"/><circle cx="56.54" cy="217.79" r="2.15"/><circle cx="57.48" cy="216.88" r="2.15"/><circle cx="58.41" cy="215.96" r="2.15"/><circle cx="59.35" cy="215.05" r="2.15"/><circle cx="60.29" cy="214.13" r="2.15"/><circle cx="61.22" cy="213.20" r="2.15"/><circle cx="62.16" cy="212.28" r="2.15"/><circle cx="63.10" cy="211.35" r="2.15"/><circle cx="64.04" cy="210.41" r="2.15"/><circle cx="64.98" cy="209.48" r="2.15"/><circle cx="65.92" cy="208.54" r="2.15"/><circle cx="66.87" cy="207.59" r="2.15"/><circle cx="67.81" cy="206.65" r="2.15"/><circle cx="68.76" cy="205.70" r="2.15"/><circle cx="69.70" cy="204.75" r="2.15"/><circle cx="70.65" cy="203.79" r="2.15"/><circle cx="71.60" cy="202.83" r="2.15"/><circle cx="72.55" cy="201.87" r="2.15"/><circle cx="73.50" cy="200.91" r="2.15"/><circle cx="74.45" cy="199.94" r="2.15"/><circle cx="75.40" cy="198.97" r="2.15"/><circle cx="76.35" cy="197.99" r="2.15"/><circle cx="77.31" cy="197.02" r="2.15"/><circle cx="78.26" cy="196.04" r="2.15"/><circle cx="79.22" cy="195.05" r="2.15"/><circle cx="80.18" cy="194.07" r="2.15"/><circle cx="81.14" cy="193.08" r="2.15"/><circle cx="82.10" cy="192.09" r="2.15"/><circle cx="83.06" cy="191.09" r="2.15"/><circle cx="84.02" cy="190.10" r="2.15"/><circle cx="84.98" cy="189.09" r="2.15"/><circle cx="85.95" cy="188.09" r="2.15"/><circle cx="86.92" cy="187.08" r="2.15"/><circle cx="87.88" cy="186.08" r="2.15"/><circle cx="88.85" cy="185.06" r="2.15"/><circle cx="89.82" cy="184.05" r="2.15"/><circle cx="90.80" cy="183.03" r="2.15"/><circle cx="91.77" cy="182.01" r="2.15"/><circle cx="92.74" cy="180.99" r="2.15"/><circle cx="93.72" cy="179.96" r="2.15"/><circle cx="94.70" cy="178.93" r="2.15"/><circle cx="95.68" cy="177.90" r="2.15"/><circle cx="96.66" cy="176.87" r="2.15"/><circle cx="97.64" cy="175.83" r="2.15"/><circle cx="98.63" cy="174.80" r="2.15"/><circle cx="99.61" cy="173.75" r="2.15"/><circle cx="100.60" cy="172.71" r="2.15"/><circle cx="101.59" cy="171.66" r="2.15"/><circle cx="102.58" cy="170.61" r="2.15"/><circle cx="103.58" cy="169.56" r="2.15"/><circle cx="104.57" cy="168.51" r="2.15"/><circle cx="105.57" cy="167.45" r="2.15"/><circle cx="106.57" cy="166.39" r="2.15"/><circle cx="107.57" cy="165.33" r="2.15"/><circle cx="108.57" cy="164.27" r="2.15"/><circle cx="109.58" cy="163.20" r="2.15"/><circle cx="110.58" cy="162.14" r="2.15"/><circle cx="111.59" cy="161.07" r="2.15"/><circle cx="112.60" cy="159.99" r="2.15"/><circle cx="113.62" cy="158.92" r="2.15"/><circle cx="114.63" cy="157.84" r="2.15"/><circle cx="115.65" cy="156.76" r="2.15"/><circle cx="116.67" cy="155.68" r="2.15"/><circle cx="117.70" cy="154.60" r="2.15"/><circle cx="118.72" cy="153.52" r="2.15"/><circle cx="119.75" cy="152.43" r="2.15"/><circle cx="120.78" cy="151.34" r="2.15"/><circle cx="121.82" cy="150.24" r="2.15"/><circle cx="122.87" cy="149.14" r="2.15"/><circle cx="123.92" cy="148.02" r="2.15"/><circle cx="124.99" cy="146.90" r="2.15"/><circle cx="126.07" cy="145.77" r="2.15"/><circle cx="127.15" cy="144.63" r="2.15"/><circle cx="128.25" cy="143.47" r="2.15"/><circle cx="129.35" cy="142.31" r="2.15"/><circle cx="130.47" cy="141.15" r="2.15"/><circle cx="131.60" cy="139.97" r="2.15"/><circle cx="132.74" cy="138.78" r="2.15"/><circle cx="133.89" cy="137.58" r="2.15"/><circle cx="135.05" cy="136.38" r="2.15"/><circle cx="136.22" cy="135.16" r="2.15"/><circle cx="137.40" cy="133.94" r="2.15"/><circle cx="138.59" cy="132.70" r="2.15"/><circle cx="139.80" cy="131.46" r="2.15"/><circle cx="141.02" cy="130.20" r="2.15"/><circle cx="142.25" cy="128.94" r="2.15"/><circle cx="143.49" cy="127.67" r="2.15"/><circle cx="144.74" cy="126.39" r="2.15"/><circle cx="146.01" cy="125.10" r="2.15"/><circle cx="147.29" cy="123.80" r="2.15"/><circle cx="148.59" cy="122.49" r="2.15"/><circle cx="149.89" cy="121.17" r="2.15"/><circle cx="151.21" cy="119.84" r="2.15"/><circle cx="152.55" cy="118.50" r="2.14"/><circle cx="153.90" cy="117.15" r="2.14"/><circle cx="155.26" cy="115.79" r="2.14"/><circle cx="156.64" cy="114.43" r="2.14"/><circle cx="158.03" cy="113.05" r="2.13"/><circle cx="159.44" cy="111.67" r="2.13"/><circle cx="160.86" cy="110.27" r="2.13"/><circle cx="162.32" cy="108.85" r="2.13"/><circle cx="163.82" cy="107.39" r="2.12"/><circle cx="165.37" cy="105.90" r="2.12"/><circle cx="166.97" cy="104.36" r="2.12"/><circle cx="168.62" cy="102.79" r="2.11"/><circle cx="170.32" cy="101.18" r="2.11"/><circle cx="172.07" cy="99.52" r="2.11"/><circle cx="173.88" cy="97.82" r="2.10"/><circle cx="175.75" cy="96.08" r="2.10"/><circle cx="177.68" cy="94.29" r="2.09"/><circle cx="179.67" cy="92.46" r="2.09"/><circle cx="181.73" cy="90.58" r="2.09"/><circle cx="183.86" cy="88.66" r="2.08"/><circle cx="186.06" cy="86.68" r="2.08"/><circle cx="188.33" cy="84.66" r="2.07"/><circle cx="190.69" cy="82.59" r="2.07"/><circle cx="193.13" cy="80.47" r="2.06"/><circle cx="195.68" cy="78.26" r="2.06"/><circle cx="198.35" cy="75.99" r="2.05"/><circle cx="201.15" cy="73.63" r="2.05"/><circle cx="204.09" cy="71.19" r="2.04"/><circle cx="207.16" cy="68.68" r="2.03"/><circle cx="210.39" cy="66.08" r="2.02"/><circle cx="213.77" cy="63.41" r="2.02"/><circle cx="217.21" cy="60.75" r="2.01"/><circle cx="220.70" cy="58.10" r="2.00"/><circle cx="224.26" cy="55.47" r="1.99"/><circle cx="227.88" cy="52.86" r="1.98"/><circle cx="231.57" cy="50.26" r="1.97"/><circle cx="235.32" cy="47.69" r="1.96"/><circle cx="239.15" cy="45.15" r="1.95"/><circle cx="243.06" cy="42.65" r="1.95"/><circle cx="247.04" cy="40.18" r="1.95"/><circle cx="251.11" cy="37.76" r="1.95"/><circle cx="255.26" cy="35.39" r="1.95"/><circle cx="259.49" cy="33.07" r="1.95"/><circle cx="263.82" cy="30.83" r="1.95"/><circle cx="268.25" cy="28.65" r="1.95"/><circle cx="272.77" cy="26.57" r="1.95"/><circle cx="277.31" cy="24.60" r="1.95"/><circle cx="281.84" cy="22.78" r="1.95"/><circle cx="286.34" cy="21.12" r="1.95"/><circle cx="290.82" cy="19.60" r="1.95"/><circle cx="295.27" cy="18.24" r="1.95"/><circle cx="299.69" cy="17.03" r="1.95"/><circle cx="304.07" cy="15.97" r="1.95"/><circle cx="308.45" cy="15.06" r="1.95"/><circle cx="312.85" cy="14.29" r="1.95"/><circle cx="317.26" cy="13.67" r="1.95"/><circle cx="321.66" cy="13.21" r="1.95"/><circle cx="326.06" cy="12.91" r="1.95"/><circle cx="330.45" cy="12.76" r="1.95"/><circle cx="334.82" cy="12.76" r="1.95"/><circle cx="339.17" cy="12.91" r="1.95"/><circle cx="343.50" cy="13.19" r="1.95"/><circle cx="347.80" cy="13.62" r="1.95"/><circle cx="352.06" cy="14.17" r="1.95"/><circle cx="356.29" cy="14.85" r="1.95"/><circle cx="360.48" cy="15.64" r="1.95"/><circle cx="364.63" cy="16.56" r="1.95"/><circle cx="368.73" cy="17.59" r="1.95"/></g>
<g fill="#ff2ec8"><circle cx="375.80" cy="18.00" r="1.6"/><circle cx="379.96" cy="19.27" r="1.6"/><circle cx="384.11" cy="20.69" r="1.6"/><circle cx="388.24" cy="22.26" r="1.6"/><circle cx="392.35" cy="24.00" r="1.6"/><circle cx="396.44" cy="25.89" r="1.6"/><circle cx="400.49" cy="27.95" r="1.6"/><circle cx="404.51" cy="30.18" r="1.6"/><circle cx="408.50" cy="32.58" r="1.6"/><circle cx="412.43" cy="35.13" r="1.6"/><circle cx="416.33" cy="37.84" r="1.6"/><circle cx="420.18" cy="40.69" r="1.6"/><circle cx="423.99" cy="43.70" r="1.6"/><circle cx="427.75" cy="46.85" r="1.6"/><circle cx="431.47" cy="50.14" r="1.6"/><circle cx="435.14" cy="53.58" r="1.6"/><circle cx="438.77" cy="57.16" r="1.6"/><circle cx="442.36" cy="60.88" r="1.6"/><circle cx="445.90" cy="64.72" r="1.6"/><circle cx="449.37" cy="68.67" r="1.6"/><circle cx="452.75" cy="72.71" r="1.6"/><circle cx="456.05" cy="76.83" r="1.6"/><circle cx="459.29" cy="81.04" r="1.6"/><circle cx="462.44" cy="85.33" r="1.6"/><circle cx="465.53" cy="89.70" r="1.6"/><circle cx="468.54" cy="94.14" r="1.6"/><circle cx="471.47" cy="98.66" r="1.6"/><circle cx="474.33" cy="103.26" r="1.6"/><circle cx="477.10" cy="107.90" r="1.6"/><circle cx="479.77" cy="112.56" r="1.6"/><circle cx="482.35" cy="117.25" r="1.6"/><circle cx="484.84" cy="121.95" r="1.6"/><circle cx="487.25" cy="126.66" r="1.6"/><circle cx="489.58" cy="131.39" r="1.6"/><circle cx="491.84" cy="136.11" r="1.6"/><circle cx="494.02" cy="140.85" r="1.6"/><circle cx="496.13" cy="145.58" r="1.6"/><circle cx="498.17" cy="150.31" r="1.6"/><circle cx="500.15" cy="155.05" r="1.6"/><circle cx="502.06" cy="159.78" r="1.6"/><circle cx="503.90" cy="164.51" r="1.6"/><circle cx="505.69" cy="169.23" r="1.6"/><circle cx="507.41" cy="173.95" r="1.6"/><circle cx="509.06" cy="178.63" r="1.6"/><circle cx="510.65" cy="183.27" r="1.6"/><circle cx="512.18" cy="187.87" r="1.6"/><circle cx="513.65" cy="192.42" r="1.6"/><circle cx="515.05" cy="196.93" r="1.6"/><circle cx="516.40" cy="201.39" r="1.6"/><circle cx="517.70" cy="205.80" r="1.6"/><circle cx="518.95" cy="210.17" r="1.6"/><circle cx="520.15" cy="214.49" r="1.6"/><circle cx="521.30" cy="218.77" r="1.6"/><circle cx="522.40" cy="222.99" r="1.6"/><circle cx="523.47" cy="227.17" r="1.6"/><circle cx="524.49" cy="231.30" r="1.6"/><circle cx="525.47" cy="235.39" r="1.6"/><circle cx="526.41" cy="239.41" r="1.6"/><circle cx="527.31" cy="243.38" r="1.6"/><circle cx="528.17" cy="247.28" r="1.6"/><circle cx="529.00" cy="251.13" r="1.6"/><circle cx="529.78" cy="254.92" r="1.6"/><circle cx="530.54" cy="258.65" r="1.6"/><circle cx="531.26" cy="262.33" r="1.6"/><circle cx="531.94" cy="265.91" r="1.6"/><circle cx="532.58" cy="269.36" r="1.6"/><circle cx="533.17" cy="272.68" r="1.6"/><circle cx="533.73" cy="275.87" r="1.6"/><circle cx="534.24" cy="278.94" r="1.6"/><circle cx="534.73" cy="281.88" r="1.6"/><circle cx="535.18" cy="284.72" r="1.6"/><circle cx="535.61" cy="287.44" r="1.6"/><circle cx="536.01" cy="290.06" r="1.6"/><circle cx="536.38" cy="292.57" r="1.6"/></g>
<path d="M81.67,240.57 L82.40,239.36 L83.13,238.15 L83.86,236.94 L84.60,235.74 L85.34,234.54 L86.08,233.34 L86.83,232.14 L87.57,230.95 L88.32,229.76 L89.08,228.57 L89.83,227.38 L90.59,226.19 L91.35,225.01 L92.12,223.82 L92.88,222.64 L93.65,221.46 L94.42,220.28 L95.19,219.11 L95.97,217.93 L96.74,216.76 L97.52,215.59 L98.30,214.42 L99.08,213.26 L99.87,212.09 L100.65,210.93 L101.44,209.76 L102.23,208.60 L103.02,207.44 L103.81,206.28 L104.60,205.13 L105.40,203.97 L106.19,202.82 L106.99,201.66 L107.79,200.51 L108.59,199.36 L109.39,198.21 L110.19,197.07 L110.99,195.92 L111.79,194.77 L112.60,193.63 L113.40,192.48 L114.21,191.34 L115.01,190.20 L115.82,189.06 L116.63,187.92 L117.43,186.78 L118.24,185.64 L119.05,184.51 L119.86,183.37 L120.66,182.24 L121.47,181.10 L122.28,179.97 L123.09,178.84 L123.90,177.70 L124.70,176.57 L125.51,175.44 L126.32,174.31 L127.13,173.18 L127.93,172.05 L128.74,170.92 L129.54,169.79 L130.35,168.67 L131.15,167.54 L131.96,166.41 L132.76,165.28 L133.56,164.16 L134.37,163.03 L135.17,161.91 L135.98,160.79 L136.78,159.67 L137.59,158.55 L138.40,157.43 L139.21,156.31 L140.02,155.19 L140.83,154.08 L141.64,152.97 L142.46,151.86 L143.28,150.75 L144.10,149.64 L144.92,148.53 L145.75,147.43 L146.57,146.33 L147.40,145.23 L148.24,144.14 L149.08,143.04 L149.92,141.95 L150.76,140.86 L151.61,139.78 L152.47,138.70 L153.32,137.62 L154.18,136.54 L155.05,135.47 L155.92,134.40 L156.80,133.33 L157.68,132.27 L158.57,131.21 L159.46,130.15 L160.36,129.10 L161.26,128.05 L162.17,127.01 L163.08,125.96 L163.99,124.92 L164.91,123.89 L165.84,122.85 L166.77,121.82 L167.70,120.79 L168.63,119.77 L169.57,118.74 L170.51,117.72 L171.45,116.70 L172.39,115.68 L173.34,114.66 L174.28,113.65 L175.23,112.63 L176.18,111.62 L177.12,110.61 L178.07,109.60" stroke="#0b400b" stroke-width="3.3" fill="none"/>
<path d="M535.18,292.00 L535.39,293.38 L535.59,294.76 L535.78,296.15 L535.98,297.53 L536.17,298.91 L536.36,300.30 L536.54,301.68 L536.72,303.07 L536.90,304.45 L537.08,305.84 L537.26,307.23 L537.43,308.61 L537.60,310.00 L537.76,311.39 L537.93,312.78 L538.09,314.17 L538.25,315.55 L538.40,316.95 L538.55,318.34 L538.71,319.73 L538.85,321.12 L539.00,322.51 L539.14,323.90 L539.28,325.30 L539.42,326.69 L539.55,328.09 L539.68,329.48 L539.81,330.88 L539.94,332.27 L540.06,333.67 L540.19,335.07 L540.30,336.47 L540.42,337.87 L540.53,339.27 L540.65,340.67 L540.75,342.07 L540.86,343.47 L540.96,344.87 L541.07,346.27 L541.16,347.68 L541.26,349.08 L541.35,350.48 L541.44,351.89 L541.53,353.30 L541.62,354.70 L541.70,356.11 L541.78,357.52 L541.86,358.93 L541.94,360.34 L542.01,361.75 L542.08,363.16 L542.15,364.57 L542.22,365.98 L542.28,367.39 L542.34,368.81 L542.40,370.22 L542.46,371.64 L542.51,373.05 L542.57,374.47 L542.62,375.89 L542.66,377.31 L542.71,378.73 L542.75,380.15 L542.79,381.57 L542.83,382.99 L542.86,384.41 L542.90,385.83 L542.93,387.26 L542.95,388.68 L542.98,390.11 L543.00,391.54 L543.03,392.96 L543.04,394.39 L543.06,395.82 L543.08,397.25 L543.09,398.68 L543.10,400.11" stroke="#0b400b" stroke-width="3.3" fill="none"/>
<path d="M81.67,240.57 L82.40,239.36 L83.13,238.15 L83.86,236.94 L84.60,235.74 L85.34,234.54 L86.08,233.34 L86.83,232.14 L87.57,230.95 L88.32,229.76 L89.08,228.57 L89.83,227.38 L90.59,226.19 L91.35,225.01 L92.12,223.82 L92.88,222.64 L93.65,221.46 L94.42,220.28 L95.19,219.11 L95.97,217.93 L96.74,216.76 L97.52,215.59 L98.30,214.42 L99.08,213.26 L99.87,212.09 L100.65,210.93 L101.44,209.76 L102.23,208.60 L103.02,207.44 L103.81,206.28 L104.60,205.13 L105.40,203.97 L106.19,202.82 L106.99,201.66 L107.79,200.51 L108.59,199.36 L109.39,198.21 L110.19,197.07 L110.99,195.92 L111.79,194.77 L112.60,193.63 L113.40,192.48 L114.21,191.34 L115.01,190.20 L115.82,189.06 L116.63,187.92 L117.43,186.78 L118.24,185.64 L119.05,184.51 L119.86,183.37 L120.66,182.24 L121.47,181.10 L122.28,179.97 L123.09,178.84 L123.90,177.70 L124.70,176.57 L125.51,175.44 L126.32,174.31 L127.13,173.18 L127.93,172.05 L128.74,170.92 L129.54,169.79 L130.35,168.67 L131.15,167.54 L131.96,166.41 L132.76,165.28 L133.56,164.16 L134.37,163.03 L135.17,161.91 L135.98,160.79 L136.78,159.67 L137.59,158.55 L138.40,157.43 L139.21,156.31 L140.02,155.19 L140.83,154.08 L141.64,152.97 L142.46,151.86 L143.28,150.75 L144.10,149.64 L144.92,148.53 L145.75,147.43 L146.57,146.33 L147.40,145.23 L148.24,144.14 L149.08,143.04 L149.92,141.95 L150.76,140.86 L151.61,139.78 L152.47,138.70 L153.32,137.62 L154.18,136.54 L155.05,135.47 L155.92,134.40 L156.80,133.33 L157.68,132.27 L158.57,131.21 L159.46,130.15 L160.36,129.10 L161.26,128.05 L162.17,127.01 L163.08,125.96 L163.99,124.92 L164.91,123.89 L165.84,122.85 L166.77,121.82 L167.70,120.79 L168.63,119.77 L169.57,118.74 L170.51,117.72 L171.45,116.70 L172.39,115.68 L173.34,114.66 L174.28,113.65 L175.23,112.63 L176.18,111.62 L177.12,110.61 L178.07,109.60 L179.02,108.58 L179.97,107.57 L180.92,106.56 L181.86,105.55 L182.81,104.55 L183.76,103.54 L184.70,102.53 L185.65,101.53 L186.60,100.52 L187.54,99.52 L188.49,98.52 L189.44,97.52 L190.39,96.53 L191.34,95.54 L192.28,94.55 L193.24,93.56 L194.19,92.57 L195.14,91.59 L196.09,90.61 L197.05,89.64 L198.00,88.67 L198.96,87.70 L199.92,86.74 L200.88,85.78 L201.84,84.82 L202.81,83.87 L203.77,82.92 L204.74,81.98 L205.71,81.04 L206.68,80.10 L207.65,79.16 L208.63,78.24 L209.60,77.31 L210.58,76.39 L211.57,75.47 L212.55,74.56 L213.54,73.65 L214.53,72.74 L215.52,71.84 L216.51,70.95 L217.51,70.05 L218.51,69.16 L219.51,68.28 L220.52,67.40 L221.53,66.52 L222.54,65.65 L223.56,64.79 L224.58,63.92 L225.61,63.06 L226.64,62.21 L227.67,61.36 L228.71,60.51 L229.76,59.67 L230.81,58.84 L231.87,58.01 L232.93,57.18 L233.99,56.36 L235.06,55.54 L236.14,54.72 L237.22,53.91 L238.31,53.11 L239.40,52.31 L240.50,51.51 L241.60,50.72 L242.70,49.93 L243.82,49.14 L244.93,48.37 L246.05,47.59 L247.18,46.82 L248.31,46.05 L249.45,45.29 L250.59,44.53 L251.73,43.78 L252.88,43.03 L254.04,42.29 L255.20,41.55 L256.36,40.81 L257.53,40.08 L258.70,39.35 L259.88,38.63 L261.06,37.91 L262.25,37.19 L263.44,36.48 L264.64,35.78 L265.84,35.08 L267.05,34.39 L268.26,33.70 L269.47,33.02 L270.69,32.35 L271.92,31.69 L273.14,31.03 L274.38,30.38 L275.62,29.74 L276.86,29.11 L278.11,28.49 L279.36,27.88 L280.62,27.28 L281.88,26.69 L283.15,26.11 L284.42,25.54 L285.69,24.98 L286.97,24.43 L288.26,23.90 L289.55,23.37 L290.85,22.86 L292.15,22.37 L293.45,21.88 L294.76,21.41 L296.08,20.96 L297.39,20.51 L298.72,20.09 L300.05,19.67 L301.38,19.27 L302.72,18.89 L304.06,18.52 L305.40,18.16 L306.75,17.82 L308.10,17.50 L309.46,17.18 L310.82,16.88 L312.18,16.60 L313.54,16.33 L314.91,16.08 L316.28,15.83 L317.65,15.61 L319.03,15.40 L320.41,15.20 L321.79,15.01 L323.17,14.84 L324.55,14.69 L325.94,14.55 L327.32,14.42 L328.71,14.31 L330.10,14.21 L331.49,14.13 L332.88,14.06 L334.27,14.01 L335.66,13.97 L337.05,13.94 L338.45,13.93 L339.84,13.94 L341.23,13.95 L342.62,13.98 L344.02,14.03 L345.41,14.09 L346.80,14.17 L348.19,14.26 L349.58,14.36 L350.96,14.48 L352.35,14.61 L353.73,14.76 L355.12,14.92 L356.50,15.10 L357.88,15.29 L359.26,15.49 L360.63,15.71 L362.01,15.95 L363.38,16.19 L364.74,16.46 L366.11,16.73 L367.47,17.02 L368.83,17.33 L370.19,17.65 L371.54,17.99 L372.89,18.33 L374.23,18.70 L375.58,19.08 L376.91,19.47 L378.25,19.88 L379.57,20.30 L380.90,20.73 L382.22,21.18 L383.53,21.65 L384.84,22.13 L386.15,22.62 L387.45,23.13 L388.74,23.65 L390.03,24.19 L391.32,24.74 L392.59,25.31 L393.86,25.89 L395.13,26.48 L396.39,27.09 L397.64,27.71 L398.89,28.35 L400.13,29.01 L401.36,29.67 L402.59,30.35 L403.81,31.05 L405.02,31.75 L406.22,32.47 L407.42,33.21 L408.62,33.95 L409.80,34.71 L410.98,35.48 L412.15,36.27 L413.32,37.06 L414.48,37.87 L415.63,38.69 L416.78,39.52 L417.91,40.36 L419.05,41.21 L420.17,42.07 L421.29,42.94 L422.40,43.83 L423.50,44.72 L424.60,45.62 L425.69,46.53 L426.77,47.45 L427.84,48.38 L428.91,49.32 L429.97,50.27 L431.03,51.23 L432.07,52.19 L433.11,53.16 L434.15,54.15 L435.17,55.13 L436.19,56.13 L437.20,57.13 L438.20,58.14 L439.20,59.16 L440.19,60.18 L441.17,61.21 L442.14,62.25 L443.11,63.29 L444.07,64.34 L445.02,65.39 L445.97,66.45 L446.90,67.51 L447.83,68.58 L448.76,69.65 L449.67,70.73 L450.58,71.81 L451.48,72.89 L452.37,73.98 L453.25,75.07 L454.13,76.17 L455.00,77.27 L455.86,78.37 L456.72,79.48 L457.56,80.58 L458.40,81.69 L459.23,82.80 L460.06,83.92 L460.87,85.03 L461.68,86.15 L462.48,87.27 L463.27,88.38 L464.06,89.50 L464.83,90.62 L465.60,91.75 L466.36,92.87 L467.12,93.99 L467.86,95.11 L468.60,96.24 L469.34,97.37 L470.06,98.50 L470.78,99.63 L471.50,100.76 L472.20,101.89 L472.90,103.03 L473.60,104.17 L474.29,105.31 L474.97,106.45 L475.65,107.60 L476.32,108.75 L476.99,109.90 L477.65,111.05 L478.31,112.21 L478.96,113.37 L479.61,114.54 L480.26,115.70 L480.90,116.88 L481.53,118.05 L482.17,119.23 L482.79,120.42 L483.42,121.60 L484.04,122.80 L484.66,123.99 L485.28,125.20 L485.89,126.40 L486.50,127.61 L487.10,128.83 L487.70,130.05 L488.30,131.27 L488.90,132.50 L489.49,133.73 L490.08,134.96 L490.66,136.20 L491.25,137.44 L491.82,138.69 L492.40,139.94 L492.97,141.19 L493.54,142.45 L494.10,143.71 L494.66,144.97 L495.22,146.24 L495.78,147.51 L496.33,148.78 L496.87,150.06 L497.41,151.34 L497.95,152.62 L498.49,153.91 L499.02,155.19 L499.55,156.49 L500.07,157.78 L500.59,159.07 L501.11,160.37 L501.62,161.67 L502.13,162.98 L502.64,164.28 L503.14,165.59 L503.64,166.90 L504.13,168.21 L504.62,169.52 L505.11,170.84 L505.59,172.16 L506.07,173.48 L506.55,174.80 L507.02,176.13 L507.49,177.45 L507.95,178.78 L508.42,180.11 L508.87,181.44 L509.33,182.78 L509.78,184.11 L510.23,185.45 L510.67,186.79 L511.11,188.13 L511.55,189.47 L511.98,190.81 L512.41,192.16 L512.84,193.51 L513.26,194.85 L513.68,196.20 L514.09,197.55 L514.51,198.90 L514.92,200.25 L515.32,201.61 L515.72,202.96 L516.12,204.32 L516.52,205.67 L516.91,207.03 L517.30,208.39 L517.69,209.75 L518.07,211.11 L518.45,212.47 L518.83,213.83 L519.20,215.19 L519.57,216.56 L519.93,217.92 L520.30,219.28 L520.66,220.65 L521.01,222.01 L521.37,223.38 L521.72,224.74 L522.07,226.11 L522.41,227.48 L522.75,228.84 L523.09,230.21 L523.42,231.58 L523.75,232.94 L524.08,234.31 L524.41,235.68 L524.73,237.04 L525.05,238.41 L525.37,239.78 L525.68,241.15 L525.99,242.52 L526.30,243.89 L526.60,245.26 L526.90,246.63 L527.20,247.99 L527.50,249.36 L527.79,250.74 L528.08,252.11 L528.36,253.48 L528.65,254.85 L528.93,256.22 L529.20,257.59 L529.48,258.96 L529.75,260.34 L530.02,261.71 L530.28,263.08 L530.54,264.45 L530.80,265.83 L531.06,267.20 L531.31,268.58 L531.56,269.95 L531.81,271.33 L532.06,272.70 L532.30,274.08 L532.54,275.45 L532.77,276.83 L533.01,278.21 L533.24,279.59 L533.47,280.96 L533.69,282.34 L533.91,283.72 L534.13,285.10 L534.35,286.48 L534.56,287.86 L534.77,289.24 L534.98,290.62 L535.18,292.00 L535.39,293.38 L535.59,294.76 L535.78,296.15 L535.98,297.53 L536.17,298.91 L536.36,300.30 L536.54,301.68 L536.72,303.07 L536.90,304.45 L537.08,305.84 L537.26,307.23 L537.43,308.61 L537.60,310.00 L537.76,311.39 L537.93,312.78 L538.09,314.17 L538.25,315.55 L538.40,316.95 L538.55,318.34 L538.71,319.73 L538.85,321.12 L539.00,322.51 L539.14,323.90 L539.28,325.30 L539.42,326.69 L539.55,328.09 L539.68,329.48 L539.81,330.88 L539.94,332.27 L540.06,333.67 L540.19,335.07 L540.30,336.47 L540.42,337.87 L540.53,339.27 L540.65,340.67 L540.75,342.07 L540.86,343.47 L540.96,344.87 L541.07,346.27 L541.16,347.68 L541.26,349.08 L541.35,350.48 L541.44,351.89 L541.53,353.30 L541.62,354.70 L541.70,356.11 L541.78,357.52 L541.86,358.93 L541.94,360.34 L542.01,361.75 L542.08,363.16 L542.15,364.57 L542.22,365.98 L542.28,367.39 L542.34,368.81 L542.40,370.22 L542.46,371.64 L542.51,373.05 L542.57,374.47 L542.62,375.89 L542.66,377.31 L542.71,378.73 L542.75,380.15 L542.79,381.57 L542.83,382.99 L542.86,384.41 L542.90,385.83 L542.93,387.26 L542.95,388.68 L542.98,390.11 L543.00,391.54 L543.03,392.96 L543.04,394.39 L543.06,395.82 L543.08,397.25 L543.09,398.68 L543.10,400.11" stroke="#0b400b" stroke-width="1.1" fill="none"/>
<g fill="#0b400b"><circle cx="242.52" cy="50.06" r="1.85"/><circle cx="246.47" cy="47.31" r="1.85"/><circle cx="250.49" cy="44.60" r="1.85"/><circle cx="254.57" cy="41.95" r="1.85"/><circle cx="258.71" cy="39.34" r="1.85"/><circle cx="262.93" cy="36.79" r="1.85"/><circle cx="267.21" cy="34.30" r="1.85"/><circle cx="271.56" cy="31.88" r="1.85"/><circle cx="275.97" cy="29.57" r="1.85"/><circle cx="280.36" cy="27.40" r="1.85"/><circle cx="284.75" cy="25.39" r="1.85"/><circle cx="289.13" cy="23.54" r="1.85"/><circle cx="293.50" cy="21.86" r="1.85"/><circle cx="297.86" cy="20.36" r="1.85"/><circle cx="302.19" cy="19.04" r="1.85"/><circle cx="306.52" cy="17.88" r="1.85"/><circle cx="310.86" cy="16.88" r="1.85"/><circle cx="315.20" cy="16.03" r="1.85"/><circle cx="319.53" cy="15.32" r="1.85"/><circle cx="323.84" cy="14.77" r="1.85"/><circle cx="328.15" cy="14.36" r="1.85"/><circle cx="332.43" cy="14.08" r="1.85"/><circle cx="336.68" cy="13.95" r="1.85"/><circle cx="340.90" cy="13.95" r="1.85"/><circle cx="345.10" cy="14.08" r="1.85"/><circle cx="349.30" cy="14.34" r="1.85"/><circle cx="353.49" cy="14.73" r="1.85"/><circle cx="357.67" cy="15.26" r="1.85"/><circle cx="361.85" cy="15.92" r="1.85"/><circle cx="366.02" cy="16.72" r="1.85"/><circle cx="370.19" cy="17.65" r="1.85"/><circle cx="374.34" cy="18.73" r="1.85"/><circle cx="378.48" cy="19.95" r="1.85"/><circle cx="382.61" cy="21.32" r="1.85"/><circle cx="386.72" cy="22.84" r="1.85"/><circle cx="390.81" cy="24.52" r="1.85"/><circle cx="394.87" cy="26.36" r="1.85"/><circle cx="398.91" cy="28.37" r="1.85"/><circle cx="402.92" cy="30.54" r="1.85"/><circle cx="406.89" cy="32.88" r="1.85"/><circle cx="410.82" cy="35.38" r="1.85"/><circle cx="414.71" cy="38.03" r="1.85"/><circle cx="418.56" cy="40.84" r="1.85"/><circle cx="422.36" cy="43.80" r="1.85"/><circle cx="426.12" cy="46.90" r="1.85"/><circle cx="429.84" cy="50.15" r="1.85"/><circle cx="433.51" cy="53.54" r="1.85"/><circle cx="437.15" cy="57.08" r="1.85"/><circle cx="440.74" cy="60.76" r="1.85"/><circle cx="444.28" cy="64.57" r="1.85"/><circle cx="447.75" cy="68.48" r="1.85"/><circle cx="451.13" cy="72.48" r="1.85"/><circle cx="454.45" cy="76.57" r="1.85"/><circle cx="457.68" cy="80.74" r="1.85"/><circle cx="460.85" cy="85.00" r="1.85"/><circle cx="463.94" cy="89.34" r="1.85"/><circle cx="466.95" cy="93.75" r="1.85"/><circle cx="469.90" cy="98.24" r="1.85"/><circle cx="472.76" cy="102.80" r="1.85"/><circle cx="475.54" cy="107.42" r="1.85"/><circle cx="478.22" cy="112.06" r="1.85"/><circle cx="480.81" cy="116.72" r="1.85"/><circle cx="483.31" cy="121.40" r="1.85"/><circle cx="485.73" cy="126.09" r="1.85"/><circle cx="488.07" cy="130.79" r="1.85"/><circle cx="490.33" cy="135.50" r="1.85"/><circle cx="492.52" cy="140.21" r="1.85"/><circle cx="494.64" cy="144.92" r="1.85"/><circle cx="496.69" cy="149.64" r="1.85"/><circle cx="498.68" cy="154.36" r="1.85"/><circle cx="500.59" cy="159.07" r="1.85"/><circle cx="502.44" cy="163.78" r="1.85"/><circle cx="504.24" cy="168.49" r="1.85"/><circle cx="505.97" cy="173.19" r="1.85"/><circle cx="507.63" cy="177.86" r="1.85"/><circle cx="509.23" cy="182.49" r="1.85"/><circle cx="510.76" cy="187.07" r="1.85"/><circle cx="512.23" cy="191.61" r="1.85"/><circle cx="513.65" cy="196.10" r="1.85"/><circle cx="515.01" cy="200.55" r="1.85"/><circle cx="516.31" cy="204.96" r="1.85"/><circle cx="517.56" cy="209.31" r="1.85"/><circle cx="518.77" cy="213.62" r="1.85"/><circle cx="519.93" cy="217.89" r="1.85"/><circle cx="521.04" cy="222.11" r="1.85"/><circle cx="522.11" cy="226.28" r="1.85"/><circle cx="523.14" cy="230.40" r="1.85"/><circle cx="524.12" cy="234.48" r="1.85"/><circle cx="525.07" cy="238.49" r="1.85"/><circle cx="525.97" cy="242.45" r="1.85"/><circle cx="526.84" cy="246.34" r="1.85"/><circle cx="527.67" cy="250.18" r="1.85"/><circle cx="528.46" cy="253.96" r="1.85"/><circle cx="529.22" cy="257.69" r="1.85"/><circle cx="529.95" cy="261.36" r="1.85"/><circle cx="530.64" cy="264.94" r="1.85"/><circle cx="531.28" cy="268.38" r="1.85"/><circle cx="531.88" cy="271.69" r="1.85"/><circle cx="532.44" cy="274.87" r="1.85"/><circle cx="532.96" cy="277.93" r="1.85"/><circle cx="533.45" cy="280.88" r="1.85"/><circle cx="533.91" cy="283.70" r="1.85"/><circle cx="534.34" cy="286.42" r="1.85"/><circle cx="534.74" cy="289.04" r="1.85"/><circle cx="535.12" cy="291.55" r="1.85"/></g>
<g fill="#0b400b"><circle cx="180.47" cy="107.04" r="1.95"/><circle cx="183.15" cy="104.18" r="1.95"/><circle cx="185.88" cy="101.28" r="1.95"/><circle cx="188.67" cy="98.34" r="1.95"/><circle cx="191.50" cy="95.36" r="1.95"/><circle cx="194.40" cy="92.35" r="1.95"/><circle cx="197.37" cy="89.32" r="1.95"/><circle cx="200.40" cy="86.25" r="1.95"/><circle cx="203.52" cy="83.17" r="1.95"/><circle cx="206.71" cy="80.07" r="1.95"/><circle cx="209.99" cy="76.95" r="1.95"/><circle cx="213.35" cy="73.82" r="1.95"/><circle cx="216.78" cy="70.71" r="1.95"/><circle cx="220.25" cy="67.63" r="1.95"/><circle cx="223.79" cy="64.59" r="1.95"/><circle cx="227.40" cy="61.59" r="1.95"/><circle cx="231.07" cy="58.63" r="1.95"/><circle cx="234.82" cy="55.72" r="1.95"/><circle cx="238.63" cy="52.87" r="1.95"/></g>
</g>
<text transform="translate(147.20,398.6) scale(1,1.12)" font-size="17.4" text-anchor="middle">1000</text>
<text transform="translate(227.00,398.6) scale(1,1.12)" font-size="17.4" text-anchor="middle">1500</text>
<text transform="translate(307.00,398.6) scale(1,1.12)" font-size="17.4" text-anchor="middle">2000</text>
<text transform="translate(388.40,398.6) scale(1,1.12)" font-size="17.4" text-anchor="middle">2500</text>
<text transform="translate(468.30,398.6) scale(1,1.12)" font-size="17.4" text-anchor="middle">3000</text>
<text transform="translate(548.10,398.6) scale(1,1.12)" font-size="17.4" text-anchor="middle">3500</text>
<text transform="translate(61.3,336.60) scale(1,1.12)" font-size="17.4" text-anchor="end">200</text>
<text transform="translate(61.3,267.80) scale(1,1.12)" font-size="17.4" text-anchor="end">400</text>
<text transform="translate(61.3,198.90) scale(1,1.12)" font-size="17.4" text-anchor="end">600</text>
<text transform="translate(61.3,129.90) scale(1,1.12)" font-size="17.4" text-anchor="end">800</text>
<text transform="translate(61.3,61.00) scale(1,1.12)" font-size="17.4" text-anchor="end">1000</text>
<text x="314.6" y="421.3" font-size="19.6" text-anchor="middle">Real</text>
<text transform="translate(20.6,194.3) rotate(-90)" font-size="19.6" text-anchor="middle">-Imag</text>
<rect x="250.8" y="111.5" width="128.9" height="76.2" fill="#fff" stroke="#1e1e1e" stroke-width="1.3"/>
<circle cx="262.9" cy="121.9" r="1.8" fill="#1818ff"/>
<path d="M251.2,140.0H274" stroke="#1ee01e" stroke-width="1.6" stroke-dasharray="6,3"/>
<path d="M259.2,142.2L263.4,137.4L267.6,142.2Z" fill="#1ee01e"/>
<path d="M251.2,158.6H273" stroke="#ff2ec8" stroke-width="1.6"/>
<circle cx="262.9" cy="158.6" r="2" fill="#ff2ec8"/>
<path d="M251.2,177.5H274" stroke="#1a6a1a" stroke-width="1.6" stroke-dasharray="6,3"/>
<path d="M260.4,179.1L263.2,175.7L266,179.1Z" fill="#1a6a1a"/>
<text transform="translate(275.2,127.00) scale(1,1.07)" font-size="16.0">Exp.</text>
<text transform="translate(275.2,145.10) scale(1,1.07)" font-size="16.0">1st order LPF</text>
<text transform="translate(275.2,164.20) scale(1,1.07)" font-size="16.0">2nd order LPF</text>
<text transform="translate(275.2,183.10) scale(1,1.07)" font-size="16.0">2nd order BPF</text>
</svg></body></html>
